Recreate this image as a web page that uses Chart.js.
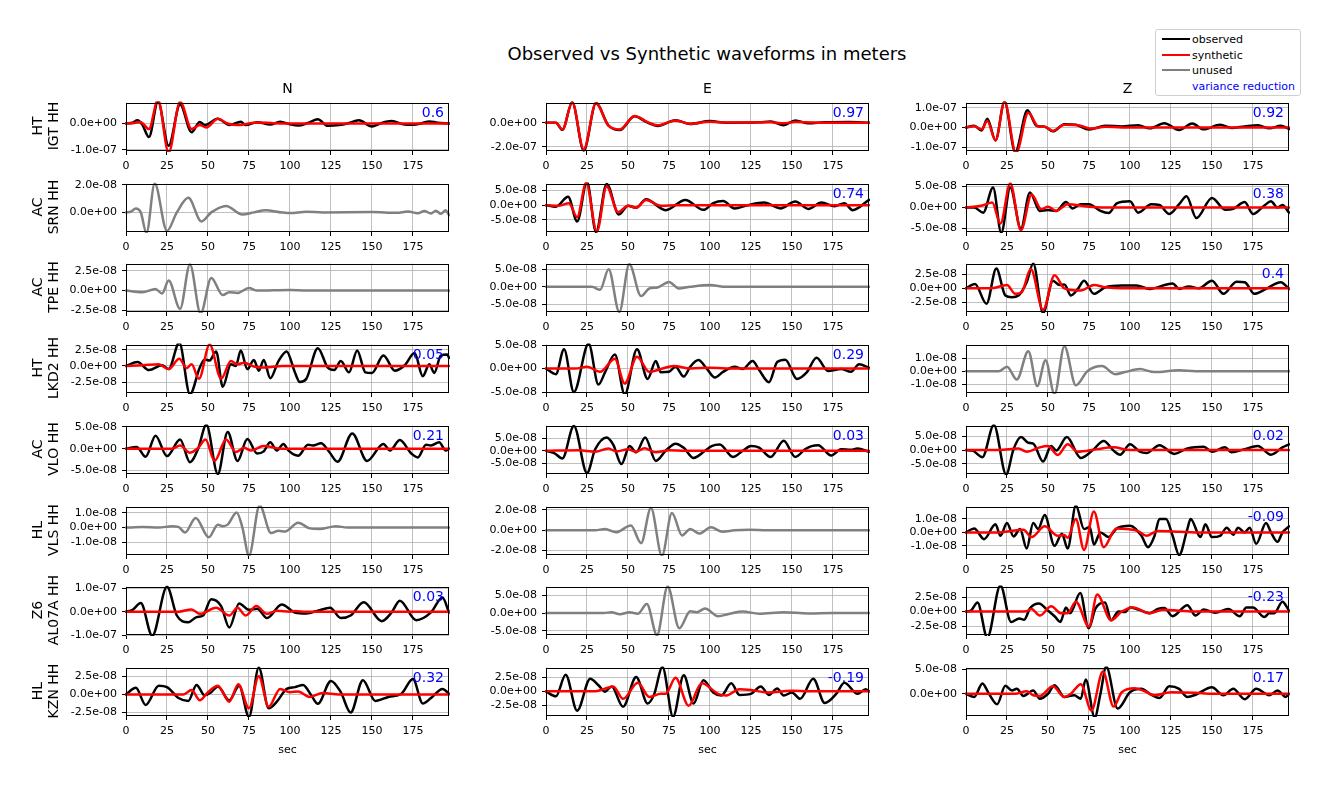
<!DOCTYPE html>
<html><head><meta charset="utf-8">
<script src="https://cdn.jsdelivr.net/npm/chart.js@4/dist/chart.umd.min.js"></script>
<style>
html,body{margin:0;padding:0;background:#fff;}
body{width:1329px;height:785px;overflow:hidden;position:relative;font-family:'DejaVu Sans',sans-serif;color:#000;}
.cv{position:absolute;}
.t{position:absolute;white-space:nowrap;line-height:1;}
.rot{transform:translate(-50%,-50%) rotate(-90deg);}
.ctr{transform:translate(-50%,-50%);}
#legend{position:absolute;left:1155px;top:29px;width:144px;height:65px;border:1px solid #d0d0d0;border-radius:3px;background:#fff;font-size:11px;}
.lg{position:absolute;left:6px;width:28px;height:0;border-top:2px solid;}
.lt{position:absolute;left:36px;white-space:nowrap;line-height:1;transform:translateY(-50%);}
</style></head><body>
<script>
// ---------------- DATA (y values in units of 1e-8 m, x in seconds) ----------------
const stations = [['HT','IGT HH'],['AC','SRN HH'],['AC','TPE HH'],['HT','LKD2 HH'],['AC','VLO HH'],['HL','VLS HH'],['Z6','AL07A HH'],['HL','KZN HH']];
const components = ['N','E','Z'];
const xTicks = [0,25,50,75,100,125,150,175];
const xMax = 197;

const IGT_N_obs = [[0,0],[4,0.3],[7,1.2],[10,-0.5],[14,-5.1],[19.5,8.3],[26,-8.4],[33,7.2],[40,-3.3],[45,0.6],[48,-0.6],[56,1.8],[63,-0.6],[70,0.7],[73,-0.6],[80,0.5],[88,-0.4],[94,0.7],[100,-0.3],[105,-0.8],[111,0.2],[117,1.6],[123,-0.9],[130,-0.6],[135,0],[142,1.2],[150,-1.1],[155,0],[162,0.9],[170,-0.4],[175,-0.5],[180,0],[185,0.8],[190,0.3],[197,0]];
const IGT_N_syn = [[0,0],[5,0.2],[9,0.5],[14,-2.1],[19.5,9],[26,-11],[33,8.2],[40,-2.1],[45,-0.6],[49,-1.5],[56,1.8],[62,0],[68,-0.6],[75,0],[80,0.4],[90,0.1],[100,0],[197,0]];
const IGT_E_obs = [[0,0],[6,0],[10,-5.9],[16,17],[23,-23],[30.5,16],[38,-2.1],[45,-6.1],[54,5.3],[62,0],[68,-2.7],[79,2.1],[88,-1.1],[100,1.3],[110,0],[130,0.3],[137,1],[145,-2.1],[152,1.9],[160,-0.5],[170,0.3],[185,0.5],[197,0]];
const IGT_E_syn = [[0,0],[6,0],[10,-5.6],[16,16.8],[23,-22],[30.5,16.2],[38,-2.5],[45,-5.6],[54,5.5],[62,0.5],[68,-2.2],[79,1.8],[88,-0.8],[100,0.8],[110,0.1],[137,0.4],[145,-0.5],[152,0.6],[165,0],[197,0]];
const IGT_Z_obs = [[0,0],[5,0.8],[9.5,-1.6],[13,4.4],[18,-6.6],[23.5,13],[30,-12.5],[37.5,8.7],[43,0.8],[48,0.3],[53,-2],[60,1.6],[67,1.3],[75,-1.1],[85,0.8],[95,0.5],[105,1.1],[112,-0.5],[121,2.1],[130,-1.3],[138,2],[145,-1],[155,1.3],[162,-0.3],[170,0.5],[178,1.1],[185,-0.5],[192,0.8],[197,-0.8]];
const IGT_Z_syn = [[0,0],[5,0.6],[9.5,-1],[13,3.3],[18,-6.6],[23.5,13],[30.5,-13],[38,7.4],[44,0.5],[48,0.3],[53,-1.8],[60,1.3],[70,0.8],[76,-0.6],[85,0.3],[95,0],[197,0]];

const SRN_N_obs = [[0,0],[3,0.05],[6,0.28],[9,0],[12.5,-1.5],[17.5,2.1],[25,-1.35],[31,0],[38,1.06],[46,-0.66],[52,0],[61,0.47],[71,-0.16],[78,0],[85,0.16],[95,0],[100,-0.05],[110,0.05],[120,0],[150,0.02],[165,-0.03],[172,0.06],[178,-0.06],[182,0.1],[186,-0.08],[189,0.12],[192,-0.1],[195,0.15],[197,-0.2]];
const SRN_E_obs = [[0,0],[6,-0.5],[13.5,2.9],[19,-5.6],[25,8],[30.5,-9.2],[37,7.3],[44.5,-3.2],[50,-0.2],[55,-0.9],[61,2],[73,-1.7],[85,1.8],[96,-1.6],[102,0.7],[108,1.4],[115,-1.1],[123,0],[133,0.9],[143,-1.1],[152,1.3],[160,-1.3],[168,0.9],[176,-0.4],[182,0.7],[187,-1.7],[197,1.8]];
const SRN_E_syn = [[0,0],[8,-0.2],[14,0.7],[19,-4.1],[24.5,7.6],[31,-9],[37,6.4],[44,-2.4],[50,-0.2],[55,-0.9],[61,1.8],[70,-0.2],[80,0],[197,0]];
const SRN_Z_obs = [[0,0],[5,0],[10.5,-1.2],[16.5,4.8],[21.5,-6],[27,4.8],[33.5,-5],[39,3.6],[45,-0.8],[50,-0.6],[55,-0.8],[61,1.3],[65,-0.2],[70,0.8],[75,0.8],[82,-0.8],[87,-1.3],[92,1],[100,1.5],[105,-1.2],[113,0.8],[118,0.6],[124,-1.5],[130,0.8],[134.5,2.7],[140.5,-2.5],[150,2.3],[158,-0.5],[163,-0.3],[170,1.3],[175,-1.5],[182,0.5],[186,1.5],[190,0],[193,0.6],[197,-1.2]];
const SRN_Z_syn = [[0,0],[10,0.5],[16,1.2],[21,-3.8],[27,5.8],[33.5,-5.4],[40,3.1],[46,-0.4],[50,0.2],[55,-0.8],[62,0.8],[75,0.2],[90,0],[197,0]];

const TPE_N_obs = [[0,0],[10,-0.2],[18,0.2],[22,-0.37],[26,1.26],[33,-2.3],[39,3.3],[45.5,-2.9],[52,1.6],[59,-0.57],[63,-0.2],[68,-0.3],[75,0.33],[80,0],[100,0.08],[110,0],[197,0]];
const TPE_E_obs = [[0,0],[28,0],[33,-0.9],[38.2,5.1],[44.7,-7.3],[50.8,6.5],[58,-2.7],[63,-0.5],[68,-0.2],[75,1.4],[81,-0.5],[88,0],[100,0.5],[110,0],[197,0]];
const TPE_Z_obs = [[0,0],[5.5,0.8],[12.5,-2.8],[18.5,3.6],[24,-1.3],[28,-1.6],[32,-1.3],[37,1.1],[41,4.5],[47,-4.5],[53,1.4],[57,0.6],[60,0.7],[64,-1.3],[68,-0.2],[72,1.4],[78,-1],[85,0.2],[95,0.5],[104,0.5],[112,-0.1],[126,0.9],[130,-0.1],[136,0.35],[142,0],[150,1.4],[157,-1],[165,1.2],[170,1.1],[176,-1],[183,-0.1],[192,1.1],[197,-0.1]];
const TPE_Z_syn = [[0,0],[15,0],[25,0.6],[30,-1],[34,-0.7],[39.5,3.5],[47,-3.9],[54,2.4],[60,0],[70,-0.4],[78,0.6],[85,0.2],[95,0],[197,0]];

const LKD2_N_obs = [[0,0],[7,0.6],[14,-0.65],[22,0.1],[26,-0.5],[32.5,3.6],[39,-4.4],[45,-0.25],[48,1],[51,0.85],[55,2.25],[59,-3.25],[64,0.25],[67,0],[70,2.4],[74,-0.5],[78,0.9],[81,-0.75],[84,0.9],[88,-1.9],[93,0.75],[98,2.25],[103,-1],[106,-2.5],[110,-2],[117,2.75],[123,-0.25],[127,-0.65],[131,0.75],[136,-1],[141,2.4],[146,-1],[150,-1.1],[157,1.6],[164,-0.75],[170,0.1],[176,2],[181,-1.6],[185,0.25],[188,-1.1],[192,1.6],[196,1.75],[197,1.25]];
const LKD2_N_syn = [[0,0],[10,0.1],[20,0.25],[26,-0.5],[32.5,1.1],[37,-0.35],[40,0.25],[44.5,-2],[51,3.3],[58,-2],[64,0.75],[68,0.25],[72,0.5],[78,-0.1],[85,-0.25],[95,0],[197,0]];
const LKD2_E_obs = [[0,0],[6,-1.2],[11,4.1],[17,-5],[26,5.3],[32,-3.4],[36,-0.8],[42,3],[48,-5.5],[55.5,4.1],[62,-2.2],[67,1.6],[70,-0.8],[75,-0.7],[79,0.4],[84,-1.7],[88,0.4],[93,1.8],[98,0],[103,-1.9],[108,-0.7],[115,0.4],[120,-0.1],[126,1.6],[130,-0.3],[136,-2.9],[141,1.4],[146,1.9],[153,-2.2],[159,-0.8],[165,2.3],[172,-0.5],[180,-0.1],[186,-0.7],[191,0.9],[197,0.2]];
const LKD2_E_syn = [[0,0],[18,0],[25,0.4],[33,-0.7],[42,2.1],[48,-3.2],[55.5,2.5],[63,-0.7],[70,-0.1],[78,0.55],[88,0],[100,0.2],[110,0],[197,0]];
const LKD2_Z_obs = [[0,0],[20,0],[25,0.35],[31,-0.65],[38,1.56],[43.5,-1.16],[48.5,0.86],[54,-1.8],[60,1.95],[67,-1.1],[74,0],[83,0.4],[91,-0.23],[97,-0.07],[106,0.16],[115,-0.07],[130,0.07],[140,0],[197,0]];

const VLO_N_obs = [[0,0],[6.5,0.4],[12,-1.85],[18,3],[25,-1.7],[33,2.1],[39,-3.1],[44,0],[49,5.5],[56,-5.8],[62,3.85],[68,-2.8],[74,2.2],[80,-1.1],[84,-0.6],[88,1.5],[92,-0.4],[96,1.1],[99,-0.4],[105,-1.6],[111,0.9],[114,0.75],[119,1.25],[124,-0.75],[129,-3],[138,3.5],[147,-2.8],[157,1.1],[161,-0.4],[167,2],[174,-1.1],[178,-2],[183,0.9],[186,0.75],[191,1.5],[195,-0.4],[197,0]];
const VLO_N_syn = [[0,0],[28,0],[33,0.75],[39,-0.9],[44,0.15],[48.5,2.1],[54,-2.8],[61,2.1],[67,-0.75],[72,0.2],[76,-0.4],[84,0.6],[95,0],[197,0]];
const VLO_E_obs = [[0,0],[5,-0.9],[10,-3.1],[17,10],[25,-9],[30,0.6],[37,5.4],[41,2.5],[46,-5.4],[51,1.9],[55,-0.6],[60.5,5.4],[67,-4.1],[73,0],[79,2.9],[84,1.25],[90,-2.9],[97,0],[101,1.9],[106,2.5],[114,-2.5],[120,0],[125,1.9],[130,1.25],[137,-2.5],[145,4.1],[152,-2.5],[158,0.6],[162,1.9],[166,2.25],[174,-1.9],[180,0.6],[186,0.4],[190,0.9],[197,-0.4]];
const VLO_E_syn = [[0,0],[20,0.25],[30,-0.4],[38,0.9],[43,-0.25],[50,0.6],[55,-0.4],[60,1],[67,-0.6],[75,0.25],[85,0],[197,0]];
const VLO_Z_obs = [[0,0],[4,-0.2],[10,-2.6],[17,9.2],[24.5,-9],[29,0.35],[33.5,4.8],[38,2.7],[41,2.4],[47,-4.2],[52,1.5],[55,-0.2],[61.5,4.8],[70,-2.9],[77,-0.2],[84,3.3],[90,-0.2],[94,-1.7],[100,2.1],[106,-0.6],[110,-1.1],[118,1.8],[127,-1.4],[135,0.6],[145,1.2],[150,-0.6],[158,1],[162,-0.8],[170,0.35],[178,1.5],[186,-1.7],[193,1],[197,2.1]];
const VLO_Z_syn = [[0,0],[20,0],[32,0.6],[37,-0.6],[45,1],[50,1.5],[56,-1.8],[62,2.1],[68,-0.6],[80,0.35],[90,1],[100,0],[197,0]];

const VLS_N_obs = [[0,0],[10,0.04],[20,0],[28,0.1],[32,0.05],[36,-0.33],[42.5,0.65],[50.5,-0.65],[56,0.2],[59,0.1],[62,0.2],[67.5,1.02],[71,0],[75,-1.9],[81.5,1.5],[88.5,-0.37],[93,-0.22],[97,-0.26],[105,0.33],[112,-0.05],[118,-0.1],[128,0.1],[135,0],[197,0]];
const VLS_E_obs = [[0,0],[30,0],[36,0.13],[42.7,-0.2],[51.8,0.48],[58,-1.27],[64,2.2],[70.7,-2.5],[76.8,1.7],[83,-0.5],[88,0.13],[93.5,-0.32],[100.6,0.29],[107.7,-0.15],[115,0],[124,0.06],[135,0],[197,0]];
const VLS_Z_obs = [[0,0],[5,0.3],[11,-0.5],[18,0.6],[21,-0.25],[25,0.7],[29,-0.3],[33,0.25],[37,-1.2],[41,0.7],[44,0.25],[48,1.3],[54,-1],[58.5,-0.1],[62,-1.2],[67,2],[72,0.25],[75.5,0.4],[78,-0.9],[82,0],[87,-0.35],[92,0.3],[100,0.5],[107,-0.25],[111,-1.1],[115,-0.25],[118,1],[122,1],[126,-0.25],[130,-1.7],[135,0.25],[137,1],[143,-0.35],[146,0.6],[150,-0.35],[155,-0.25],[159,0.35],[163,-0.17],[166,0.35],[170,0],[173,0.35],[177,-0.85],[183,0.7],[186,0],[190,-0.7],[193,0],[197,0.45]];
const VLS_Z_syn = [[0,0],[20,0],[35,0.2],[40,-0.35],[48,0.45],[56,-0.25],[60,-0.2],[62,-0.4],[67,1],[72,-1.3],[78,1.55],[84,-1.1],[90,0.1],[92,0.3],[98,0.25],[105,0.1],[110,-0.25],[117,0.1],[130,0.05],[140,0],[197,0]];

const AL07A_N_obs = [[0,0],[4,0.8],[9,3.7],[16,-10.2],[25,10.6],[31,-1.6],[38,-4.5],[43,-2.3],[47,-1.6],[52,5.3],[58,2.4],[63,-6.7],[69,3.5],[75,0.8],[80,1.3],[86,-2.7],[95,3.1],[103,-0.3],[110,-0.7],[117,0.4],[124.5,1.7],[131,-2.7],[137,-1.6],[145,4],[156,-4],[162,-0.3],[167,4.7],[177,-3.6],[186,-0.3],[193,6.1],[197,-0.3]];
const AL07A_N_syn = [[0,0],[32,0],[40,1],[45,-0.9],[55,1.7],[63,-1.6],[68,1.7],[73,-1.6],[79.5,2.4],[86,-0.9],[92,0.4],[100,0],[103,0.3],[110,0],[197,0]];
const AL07A_E_obs = [[0,0],[35,0],[40,0.26],[45,-0.35],[51,0.26],[56,-0.17],[61.5,2.6],[67.7,-6.3],[74.2,7.6],[81.3,-4.3],[88,0.5],[92,0.26],[97,1.3],[105,-0.9],[112,-0.17],[120,0.44],[130,-0.17],[145,0.26],[160,-0.1],[175,0],[197,0]];
const AL07A_Z_obs = [[0,0],[3,0.15],[7,1.55],[13,-4.5],[21,4.5],[27.5,-1.8],[32.5,-1.2],[35.5,-1.4],[39,0.55],[44.5,1.4],[50,0.15],[54.5,-0.95],[57.5,-1.8],[61,0.7],[63.5,-0.3],[69.7,3.2],[74.8,-2.9],[79,0.55],[84.8,1.55],[88.5,-1.5],[93,0],[97,-0.1],[100,0.7],[105,0.35],[112,-0.3],[117,0.45],[121,0.6],[126,-0.8],[135,1.1],[140,-0.7],[145,0.35],[152,-0.2],[160,0.45],[167,-0.8],[171,0.7],[175,0.7],[182,-0.95],[185,-0.3],[188,-0.3],[193,1.7],[197,0.15]];
const AL07A_Z_syn = [[0,0],[32,0],[37,0.05],[40,0.45],[45,-0.7],[52,0.9],[58,-0.3],[62,-0.3],[67,1.7],[75,-2.6],[80,2.95],[88.5,-1.5],[95,0],[102,0.7],[112,-0.3],[120,0.3],[130,0.15],[140,0],[197,0]];

const KZN_N_obs = [[0,0],[6,0.9],[12,-1.46],[20,1.2],[25,1],[32,-0.5],[38,-0.9],[43,1.3],[48,-0.13],[52,0.3],[56,1.1],[63,-0.8],[69,1.2],[75,-3.1],[81,3.7],[87,-1.9],[92,-1],[98,0.75],[103,1],[108,1.3],[113,-0.13],[117,-1.3],[125,1.85],[131,0.3],[137,-2.5],[144.5,1.95],[152,-0.9],[160,-0.35],[168,0.1],[175,2.1],[181,-1.25],[186,-0.5],[193,0.75],[197,0.1]];
const KZN_N_syn = [[0,0],[35,0],[40,0.6],[45,-0.8],[50,0.3],[56,1.2],[63,-1],[68.5,1.4],[75,-1.9],[81,2.5],[87,-1.7],[94,0.75],[100,0.3],[105,0.4],[112,-0.35],[120,0.2],[130,0],[197,0]];
const KZN_E_obs = [[0,0],[6,-0.9],[12,3],[19,-3.5],[27,2.3],[32,1.1],[36,-0.06],[40,0.9],[47,-2.8],[55,2.6],[62,-2.2],[66,-0.5],[71,4.4],[77.5,-4.6],[84,2.9],[90,-2.2],[96,2],[102,-0.2],[107,-0.75],[113,1.45],[118,-0.65],[125,-0.45],[131,0.9],[136,-0.65],[141,0.5],[145,-0.75],[150,-0.2],[155,-1.35],[163,2.3],[170,-2.1],[177,-0.45],[182,1.55],[190,-0.45],[195,0.4],[197,0]];
const KZN_E_syn = [[0,0],[30,0],[35,0.4],[41,0.9],[47,-1.35],[56,1.55],[63,-1],[70,-0.45],[73,-0.45],[79,2.45],[87,-2.6],[95,1.45],[105,-0.45],[110,-0.75],[118,0.4],[125,0.25],[135,-0.2],[150,0.1],[160,0],[197,0]];
const KZN_Z_obs = [[0,0],[5,-0.65],[10,2.1],[14,0],[19,-2.1],[24,1.6],[28,0.65],[31,1],[35,-0.45],[41,0.65],[45,-1],[50,0],[54,1.75],[60,-0.65],[66,-0.3],[70,-1],[73,2.9],[78.5,-4.8],[82,0],[85.5,5.5],[92.5,-3],[100,0.3],[107,1],[112,0],[118,-0.85],[124,1.5],[130,1],[135,-0.65],[140,-0.2],[150,1.3],[157,-0.3],[163,1],[170,-1.1],[177,1],[185,-0.3],[190,0.65],[195,-0.65],[197,0]];
const KZN_Z_syn = [[0,0],[30,0],[37,0.5],[41,-0.3],[45,-0.45],[53,1.5],[60,-0.65],[64,0],[70,1.95],[76.5,-3.4],[83.5,4.5],[90,-2.6],[95,0.3],[103,1.1],[108,0.65],[115,-0.3],[125,0.3],[140,0.2],[150,0],[197,0]];

const observed = [
  [IGT_N_obs, IGT_E_obs, IGT_Z_obs],
  [SRN_N_obs, SRN_E_obs, SRN_Z_obs],
  [TPE_N_obs, TPE_E_obs, TPE_Z_obs],
  [LKD2_N_obs, LKD2_E_obs, LKD2_Z_obs],
  [VLO_N_obs, VLO_E_obs, VLO_Z_obs],
  [VLS_N_obs, VLS_E_obs, VLS_Z_obs],
  [AL07A_N_obs, AL07A_E_obs, AL07A_Z_obs],
  [KZN_N_obs, KZN_E_obs, KZN_Z_obs]
];
const synthetic = [
  [IGT_N_syn, IGT_E_syn, IGT_Z_syn],
  [null, SRN_E_syn, SRN_Z_syn],
  [null, null, TPE_Z_syn],
  [LKD2_N_syn, LKD2_E_syn, null],
  [VLO_N_syn, VLO_E_syn, VLO_Z_syn],
  [null, null, VLS_Z_syn],
  [AL07A_N_syn, null, AL07A_Z_syn],
  [KZN_N_syn, KZN_E_syn, KZN_Z_syn]
];
const varianceReduction = [
  ['0.6','0.97','0.92'],
  [null,'0.74','0.38'],
  [null,null,'0.4'],
  ['0.05','0.29',null],
  ['0.21','0.03','0.02'],
  [null,null,'-0.09'],
  ['0.03',null,'-0.23'],
  ['0.32','-0.19','0.17']
];
const yLimits = [
  [[-10.4,7.9],[-23.4,16.6],[-12.0,12.6]],
  [[-1.43,2.1],[-9.2,7.4],[-5.8,5.7]],
  [[-2.7,3.4],[-7.3,6.7],[-4.3,4.5]],
  [[-4.2,3.3],[-5.2,5.1],[-1.7,2.07]],
  [[-5.8,5.3],[-9.4,10.2],[-8.8,9.0]],
  [[-1.85,1.42],[-2.43,2.33],[-1.68,1.92]],
  [[-9.9,10.7],[-6.2,7.5],[-4.05,4.3]],
  [[-2.97,3.68],[-4.46,4.3],[-4.5,5.3]]
];
const yTicks = [
  [[-10,0],[-20,0],[-10,0,10]],
  [[0,2],[-5,0,5],[-5,0,5]],
  [[-2.5,0,2.5],[-5,0,5],[-2.5,0,2.5]],
  [[-2.5,0,2.5],[-5,0,5],[-1,0,1]],
  [[-5,0,5],[-5,0,5],[-5,0,5]],
  [[-1,0,1],[-2,0,2],[-1,0,1]],
  [[-10,0,10],[-5,0,5],[-2.5,0,2.5]],
  [[-2.5,0,2.5],[-2.5,0,2.5],[0,5]]
];
const UNIT = 1e-8;

// ---------------- LAYOUT ----------------
const COL_LEFT = [126, 546, 966];
const ROW_TOP = [101, 182, 262, 343, 424, 505, 585, 666];
const PLOT_W = 323, PLOT_H = 50;
const Y_AXIS_W = 90, X_AXIS_H = 24, PAD_T = 10, PAD_R = 8;
const FONT = 'DejaVu Sans';
const C_OBS = '#000000', C_SYN = '#ff0000', C_UNUSED = '#808080', C_VR = '#0000ff', C_GRID = '#b0b0b0';

function fmtExp(v) {
  const s = (v * UNIT).toExponential(1);
  return s.replace(/e([+-])(\d)$/, 'e$10$2');
}

const framePlugin = {
  id: 'frame',
  afterDatasetsDraw(chart) {
    const {ctx, chartArea: a} = chart;
    ctx.save();
    ctx.strokeStyle = '#000';
    ctx.lineWidth = 1;
    ctx.strokeRect(Math.round(a.left) + 0.5, Math.round(a.top) + 0.5, Math.round(a.right - a.left) - 1, Math.round(a.bottom - a.top) - 1);
    const txt = chart.options.plugins.frame.vr;
    if (txt) {
      ctx.font = '14px "' + FONT + '"';
      ctx.fillStyle = C_VR;
      ctx.textAlign = 'right';
      ctx.textBaseline = 'alphabetic';
      ctx.fillText(txt, a.right - 5, a.top + 14);
    }
    ctx.restore();
  }
};

function addText(txt, x, y, size, cls, color) {
  const d = document.createElement('div');
  d.className = 't ' + cls;
  d.textContent = txt;
  d.style.left = x + 'px';
  d.style.top = y + 'px';
  d.style.fontSize = size + 'px';
  if (color) d.style.color = color;
  document.body.appendChild(d);
}

function line(pts, color) {
  return {
    data: pts.map(p => ({x: p[0], y: p[1]})),
    borderColor: color, borderWidth: 2.5, pointRadius: 0, pointHoverRadius: 0,
    fill: false, cubicInterpolationMode: 'monotone', clip: 1,
    borderJoinStyle: 'round', borderCapStyle: 'round'
  };
}

function makePanel(r, c) {
  const W = Y_AXIS_W + PLOT_W + PAD_R, H = PAD_T + PLOT_H + X_AXIS_H;
  const cv = document.createElement('canvas');
  cv.className = 'cv';
  cv.width = W; cv.height = H;
  cv.style.width = W + 'px'; cv.style.height = H + 'px';
  cv.style.left = (COL_LEFT[c] - Y_AXIS_W) + 'px';
  cv.style.top = (ROW_TOP[r] - PAD_T) + 'px';
  document.body.appendChild(cv);
  const syn = synthetic[r][c];
  const datasets = syn ? [line(syn, C_SYN), line(observed[r][c], C_OBS)] : [line(observed[r][c], C_UNUSED)];
  const tickFont = {family: FONT, size: 11};
  const grid = {color: C_GRID, lineWidth: 0.8, tickLength: 4, tickColor: '#000', tickWidth: 1, drawTicks: true};
  new Chart(cv, {
    type: 'line',
    data: {datasets},
    plugins: [framePlugin],
    options: {
      responsive: false, animation: false, events: [],
      layout: {padding: {left: 0, right: PAD_R, top: PAD_T, bottom: 0}},
      plugins: {legend: {display: false}, tooltip: {enabled: false}, frame: {vr: varianceReduction[r][c]}},
      scales: {
        x: {
          type: 'linear', min: 0, max: xMax,
          afterBuildTicks: s => { s.ticks = xTicks.map(v => ({value: v})); },
          afterFit: s => { s.height = X_AXIS_H; },
          ticks: {font: tickFont, color: '#000', padding: 5, maxRotation: 0, autoSkip: false},
          grid, border: {display: false}
        },
        y: {
          type: 'linear', min: yLimits[r][c][0], max: yLimits[r][c][1],
          afterBuildTicks: s => { s.ticks = yTicks[r][c].map(v => ({value: v})); },
          afterFit: s => { s.width = Y_AXIS_W; },
          ticks: {font: tickFont, color: '#000', padding: 5, autoSkip: false, callback: v => fmtExp(v)},
          grid, border: {display: false}
        }
      }
    }
  });
}

for (let r = 0; r < stations.length; r++) {
  for (let c = 0; c < components.length; c++) makePanel(r, c);
  const cy = ROW_TOP[r] + PLOT_H / 2;
  addText(stations[r][0], 37, cy, 14, 'rot');
  addText(stations[r][1], 53, cy, 14, 'rot');
}
for (let c = 0; c < components.length; c++) {
  const cx = COL_LEFT[c] + PLOT_W / 2;
  addText(components[c], cx, 88, 14, 'ctr');
  addText('sec', cx, 749, 11, 'ctr');
}
addText('Observed vs Synthetic waveforms in meters', 707, 54, 18, 'ctr');

// legend
const legendItems = [['observed', C_OBS], ['synthetic', C_SYN], ['unused', C_UNUSED], ['variance reduction', null]];
const lg = document.createElement('div');
lg.id = 'legend';
legendItems.forEach((it, i) => {
  const y = 9 + i * 15.7;
  if (it[1]) {
    const l = document.createElement('div');
    l.className = 'lg'; l.style.top = (y - 1) + 'px'; l.style.borderTopColor = it[1];
    lg.appendChild(l);
  }
  const t = document.createElement('div');
  t.className = 'lt'; t.style.top = y + 'px'; t.textContent = it[0];
  if (!it[1]) t.style.color = C_VR;
  lg.appendChild(t);
});
document.body.appendChild(lg);
</script>
</body></html>
